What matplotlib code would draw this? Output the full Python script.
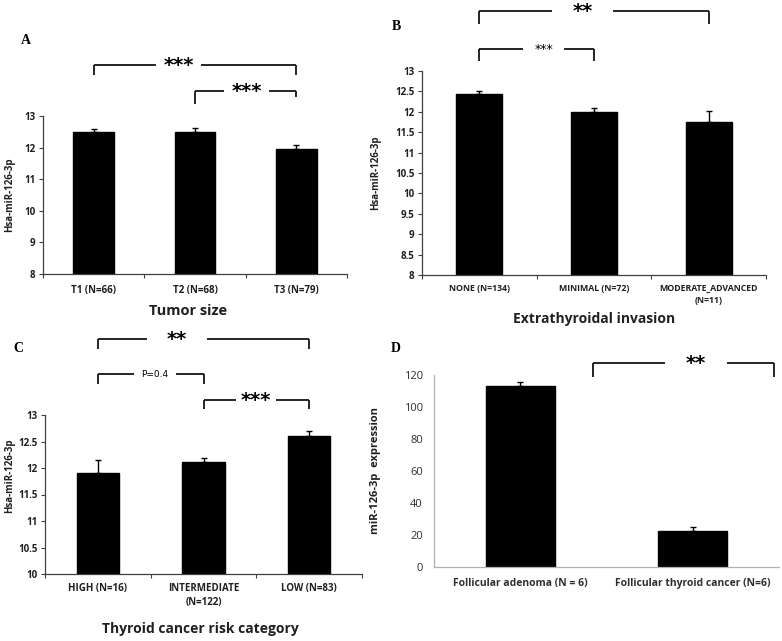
import numpy as np
import matplotlib
matplotlib.use("Agg")
import matplotlib.pyplot as plt

plt.rcParams['font.family'] = ['Open Sans', 'DejaVu Sans']

# ---- data ----
a_labels = ["T1 (N=66)", "T2 (N=68)", "T3 (N=79)"]
a_values = [12.50, 12.49, 11.97]
a_errors = [0.10, 0.14, 0.10]

b_labels = ["NONE (N=134)", "MINIMAL (N=72)", "MODERATE_ADVANCED\n(N=11)"]
b_values = [12.43, 11.99, 11.75]
b_errors = [0.09, 0.11, 0.27]

c_labels = ["HIGH (N=16)", "INTERMEDIATE\n(N=122)", "LOW (N=83)"]
c_values = [11.90, 12.11, 12.60]
c_errors = [0.25, 0.08, 0.09]

d_labels = ["Follicular adenoma (N = 6)", "Follicular thyroid cancer (N=6)"]
d_values = [112.9, 22.5]
d_errors = [2.5, 2.5]

W, H = 782, 641
fig = plt.figure(figsize=(W / 100, H / 100), dpi=100)


def px_axes(left, top, right, bottom):
    """axes from pixel box (image coords, origin top-left)"""
    return fig.add_axes([left / W, 1 - bottom / H, (right - left) / W, (bottom - top) / H])


def px_text(x, y, s, **kw):
    kw.setdefault('ha', 'center')
    kw.setdefault('va', 'center')
    fig.text(x / W, 1 - y / H, s, **kw)


def bar_panel(ax, labels, values, errors, ylim, yticks, label_pad, spine_color='#404040',
              tick_len=3, tick_size=7, label_size=7, label_color='#202020', bold_y=True):
    n = len(values)
    x = np.arange(n)
    ax.bar(x, values, width=0.4, color='black', edgecolor='black', zorder=2)
    ax.errorbar(x, values, yerr=[np.zeros(n), errors], fmt='none', ecolor='black',
                elinewidth=1.0, capsize=2.5, capthick=1.0, zorder=3)
    ax.set_xlim(-0.5, n - 0.5)
    ax.set_ylim(*ylim)
    ax.set_yticks(yticks)
    ax.set_yticklabels([f"{t:g}" for t in yticks], fontsize=tick_size, color=label_color,
                       fontweight='bold' if bold_y else 'normal')
    ax.set_xticks(np.arange(n + 1) - 0.5)
    ax.set_xticklabels([])
    ax.set_xticks(x, minor=True)
    ax.set_xticklabels(labels, minor=True, fontsize=label_size, color=label_color,
                       fontweight='bold', linespacing=1.4)
    ax.tick_params(axis='x', which='major', length=tick_len, color=spine_color)
    ax.tick_params(axis='x', which='minor', length=0, pad=label_pad)
    ax.tick_params(axis='y', length=tick_len, color=spine_color, pad=2.5)
    for s in ['top', 'right']:
        ax.spines[s].set_visible(False)
    for s in ['left', 'bottom']:
        ax.spines[s].set_color(spine_color)
        ax.spines[s].set_linewidth(0.9)


def bracket(ax, x0, x1, y_top, y_left, y_right, text, tx, gap, fs=14, weight='bold'):
    kw = dict(color='black', lw=1.2, clip_on=False, solid_capstyle='butt')
    ax.plot([x0, x0], [y_left, y_top], **kw)
    ax.plot([x1, x1], [y_right, y_top], **kw)
    ax.plot([x0, tx - gap], [y_top, y_top], **kw)
    ax.plot([tx + gap, x1], [y_top, y_top], **kw)
    ax.text(tx, y_top, text, ha='center', va='center', fontsize=fs, fontweight=weight,
            clip_on=False, family=['DejaVu Sans'])


# ---- panel A ----
axA = px_axes(43, 116, 347, 274)
bar_panel(axA, a_labels, a_values, a_errors, (8, 13), [8, 9, 10, 11, 12, 13], label_pad=8)
axA.set_ylabel("Hsa-miR-126-3p", fontsize=7, fontweight='bold', color='#202020')
axA.yaxis.set_label_coords(-0.092, 0.5)
bracket(axA, 0, 2, 14.61, 14.30, 14.30, "***", 0.84, 0.22)
bracket(axA, 1, 2, 13.79, 13.38, 13.60, "***", 1.51, 0.22)
px_text(26, 40, "A", fontsize=10, fontweight='bold', family=['Liberation Serif'])
px_text(188, 311, "Tumor size", fontsize=10.5, fontweight='bold', color='#202020')

# ---- panel B ----
axB = px_axes(422, 71, 766, 275)
bar_panel(axB, b_labels, b_values, b_errors, (8, 13), list(np.arange(8, 13.01, 0.5)),
          label_pad=6.5, label_size=6.3)
axB.set_ylabel("Hsa-miR-126-3p", fontsize=7, fontweight='bold', color='#202020')
axB.yaxis.set_label_coords(-0.119, 0.5)
bracket(axB, 0, 2, 14.46, 14.14, 14.14, "**", 0.9, 0.27)
bracket(axB, 0, 1, 13.53, 13.24, 13.24, "***", 0.56, 0.18, fs=9, weight='normal')
px_text(396, 27, "B", fontsize=10, fontweight='bold', family=['Liberation Serif'])
px_text(594, 319, "Extrathyroidal invasion", fontsize=10, fontweight='bold', color='#202020')

# ---- panel C ----
axC = px_axes(45, 415, 362, 574)
bar_panel(axC, c_labels, c_values, c_errors, (10, 13), list(np.arange(10, 13.01, 0.5)),
          label_pad=6.5)
axC.set_ylabel("Hsa-miR-126-3p", fontsize=7, fontweight='bold', color='#202020')
axC.yaxis.set_label_coords(-0.095, 0.62)
bracket(axC, 0, 2, 14.43, 14.25, 14.25, "**", 0.75, 0.28)
bracket(axC, 0, 1, 13.77, 13.58, 13.58, "P=0.4", 0.54, 0.2, fs=6.5, weight='normal')
bracket(axC, 1, 2, 13.28, 13.11, 13.11, "***", 1.5, 0.19)
px_text(18, 348, "C", fontsize=10, fontweight='bold', family=['Liberation Serif'])
px_text(200, 629, "Thyroid cancer risk category", fontsize=10, fontweight='bold',
        color='#202020')

# ---- panel D ----
axD = px_axes(434, 375, 779, 567)
bar_panel(axD, d_labels, d_values, d_errors, (0, 120), [0, 20, 40, 60, 80, 100, 120],
          label_pad=8, spine_color='#b0b0b0', tick_len=0, tick_size=8, label_size=7.5,
          label_color='#303030', bold_y=False)
axD.tick_params(axis='y', pad=8)
axD.set_ylabel("miR-126-3p  expression", fontsize=8, fontweight='bold', color='#202020')
axD.yaxis.set_label_coords(-0.154, 0.5)
bracket(axD, 0.42, 1.47, 127.5, 118.75, 118.75, "**", 1.02, 0.18)
px_text(396, 348, "D", fontsize=10, fontweight='bold', family=['Liberation Serif'])

fig.savefig("out.png", dpi=100)
